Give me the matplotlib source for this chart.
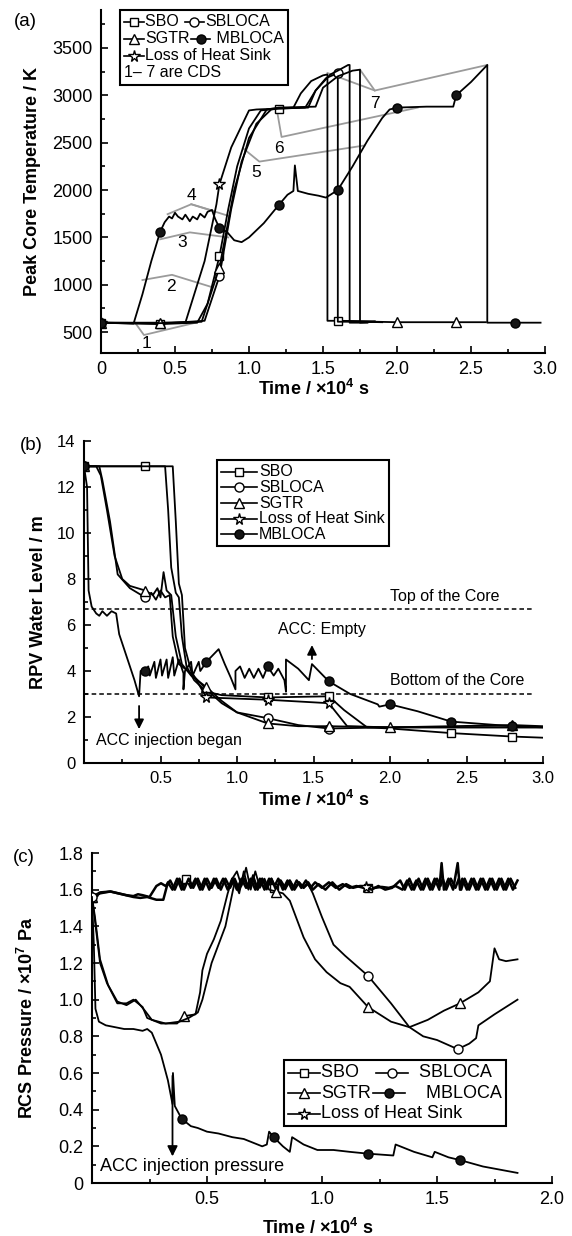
import numpy as np
import matplotlib.pyplot as plt
from matplotlib.lines import Line2D
from matplotlib.offsetbox import DrawingArea, TextArea, HPacker, VPacker, AnchoredOffsetbox
from matplotlib.ticker import MultipleLocator, FuncFormatter

plt.rcParams['font.family'] = ['Liberation Sans', 'DejaVu Sans']
plt.rcParams['mathtext.fontset'] = 'custom'
plt.rcParams['mathtext.rm'] = 'Liberation Sans'
plt.rcParams['mathtext.bf'] = 'Liberation Sans:bold'

# ---------------- (a) peak core temperature ----------------
a_sbo_t = [0, 0.4, 0.65, 0.72, 0.8, 0.86, 0.92, 1.0, 1.08, 1.2, 1.3, 1.35, 1.42, 1.5, 1.53, 1.53, 1.6, 1.85]
a_sbo_T = [600, 585, 600, 800, 1300, 1800, 2250, 2650, 2840, 2860, 2870, 3020, 3150, 3210, 3220, 620, 620, 615]

a_sblo_t = [0, 0.4, 0.7, 0.8, 0.88, 0.95, 1.05, 1.15, 1.2, 1.4, 1.45, 1.52, 1.6, 1.6, 1.75, 1.9]
a_sblo_T = [600, 590, 620, 1090, 1800, 2300, 2700, 2850, 2860, 2870, 3050, 3180, 3235, 610, 610, 605]

a_sgtr_t = [0, 0.4, 0.68, 0.8, 0.9, 1.0, 1.12, 1.2, 1.45, 1.5, 1.6, 1.7, 1.75, 1.75, 1.85, 2.0, 2.4, 2.6]
a_sgtr_T = [600, 600, 610, 1180, 2000, 2550, 2850, 2870, 2880, 3080, 3200, 3260, 3270, 600, 610, 605, 605, 605]

a_lohs_t = [0, 0.4, 0.57, 0.7, 0.78, 0.8, 0.88, 1.0, 1.05, 1.2, 1.38, 1.45, 1.55, 1.6, 1.67, 1.68, 1.68, 1.8]
a_lohs_T = [600, 595, 600, 1250, 1850, 2060, 2450, 2840, 2850, 2860, 2870, 3050, 3220, 3260, 3320, 3320, 600, 600]

a_mb_t = [0, 0.22, 0.28, 0.34, 0.4, 0.43, 0.46, 0.48, 0.5, 0.52, 0.55, 0.57, 0.6, 0.62, 0.65, 0.67,
          0.7, 0.72, 0.75, 0.77, 0.8, 0.85, 0.9, 0.95, 1.0, 1.1, 1.2, 1.26, 1.3, 1.31, 1.33, 1.4,
          1.47, 1.52, 1.6, 1.7, 1.8, 1.9, 1.95, 2.0, 2.2, 2.38, 2.4, 2.5, 2.61, 2.61, 2.8, 2.97]
a_mb_T = [600, 590, 900, 1250, 1560, 1660, 1720, 1700, 1760, 1720, 1690, 1740, 1670, 1720, 1690, 1750,
          1710, 1770, 1790, 1700, 1600, 1560, 1470, 1450, 1500, 1650, 1840, 1950, 1990, 2260, 1990, 1960,
          1940, 1920, 2000, 2250, 2520, 2760, 2850, 2870, 2880, 2880, 3000, 3140, 3320, 600, 600, 600]

# CDS guide lines (gray) and their numbers
cds_lines = [
    ([0.23, 0.29, 0.68], [600, 470, 615]),
    ([0.28, 0.48, 0.74], [1050, 1105, 980]),
    ([0.40, 0.60, 0.86], [1480, 1553, 1500]),
    ([0.45, 0.61, 0.87], [1745, 1850, 1723]),
    ([0.61, 0.76], [1850, 1780]),
    ([0.96, 1.07, 1.78], [2440, 2300, 2470]),
    ([1.19, 1.22, 2.14], [2830, 2560, 2870]),
    ([1.53, 1.85, 2.61], [3235, 3050, 3320]),
    ([1.75, 1.85], [3270, 3050]),
]
cds_num = ['1', '2', '3', '4', '5', '6', '7']
cds_num_t = [0.31, 0.47, 0.55, 0.61, 1.05, 1.20, 1.85]
cds_num_T = [385, 980, 1447, 1940, 2190, 2436, 2915]

# ---------------- (b) RPV water level ----------------
b_sbo_t = [0, 0.4, 0.53, 0.55, 0.57, 0.6, 0.62, 0.64, 0.67, 0.72, 0.8, 0.9, 1.2, 1.6, 1.7, 1.85, 2.0, 2.4, 2.8, 3.0]
b_sbo_L = [12.9, 12.9, 12.9, 11.0, 8.5, 7.4, 7.2, 5.5, 4.2, 3.6, 3.1, 2.95, 2.85, 2.9, 2.3, 1.55, 1.5, 1.3, 1.15, 1.1]

b_sblo_t = [0, 0.1, 0.12, 0.17, 0.22, 0.3, 0.4, 0.44, 0.47, 0.5, 0.53, 0.56, 0.58, 0.62, 0.7, 0.8, 0.9,
            1.0, 1.2, 1.4, 1.6, 2.0, 2.4, 2.8, 3.0]
b_sblo_L = [12.9, 12.9, 12.3, 10.5, 8.2, 7.6, 7.2, 7.4, 7.1, 7.5, 7.2, 7.3, 5.5, 4.3, 3.9, 3.2, 2.6,
            2.2, 1.95, 1.65, 1.5, 1.55, 1.55, 1.55, 1.55]

b_sgtr_t = [0, 0.08, 0.11, 0.15, 0.2, 0.25, 0.3, 0.4, 0.45, 0.48, 0.5, 0.52, 0.54, 0.57, 0.6, 0.64, 0.7,
            0.8, 0.9, 1.0, 1.2, 1.4, 1.6, 2.0, 2.4, 2.8, 3.0]
b_sgtr_L = [12.9, 12.9, 12.5, 11.0, 9.0, 8.0, 7.7, 7.5, 7.3, 7.6, 7.2, 8.3, 7.5, 7.3, 5.5, 4.3, 3.8,
            3.3, 2.7, 2.2, 1.72, 1.6, 1.6, 1.55, 1.6, 1.65, 1.6]

b_lohs_t = [0, 0.4, 0.58, 0.6, 0.62, 0.64, 0.66, 0.7, 0.8, 1.2, 1.6, 1.72, 2.0, 2.4, 2.8, 3.0]
b_lohs_L = [12.9, 12.9, 12.9, 10.5, 7.8, 7.3, 5.0, 4.0, 2.85, 2.75, 2.6, 1.6, 1.55, 1.55, 1.55, 1.55]

b_mb_t = [0, 0.02, 0.03, 0.05, 0.08, 0.1, 0.12, 0.15, 0.18, 0.21, 0.23, 0.26, 0.3, 0.33, 0.36, 0.37,
          0.4, 0.42, 0.43, 0.46, 0.47, 0.5, 0.51, 0.54, 0.55, 0.58, 0.59, 0.62, 0.65, 0.65, 0.66, 0.7,
          0.71, 0.75, 0.76, 0.8, 0.88, 0.92, 0.96, 0.99, 0.99, 1.02, 1.05, 1.08, 1.11, 1.14, 1.17, 1.2,
          1.24, 1.27, 1.31, 1.32, 1.32, 1.4, 1.47, 1.49, 1.6, 1.74, 1.92, 1.93, 2.0, 2.18, 2.4, 2.6, 2.8, 3.0]
b_mb_L = [12.9, 12.0, 7.5, 6.8, 6.5, 6.4, 6.6, 6.4, 6.6, 6.5, 5.6, 5.0, 4.2, 3.6, 2.9, 4.0,
          4.0, 4.2, 3.8, 4.4, 3.7, 4.5, 3.8, 4.5, 3.7, 4.6, 3.8, 4.5, 3.9, 3.2, 4.0, 4.4,
          3.8, 4.4, 4.0, 4.4, 4.95, 4.3, 3.7, 3.2, 4.0, 4.2, 3.7, 4.1, 3.7, 4.1, 3.7, 4.2,
          3.8, 4.1, 3.6, 3.1, 4.5, 4.1, 3.6, 4.3, 3.55, 3.0, 2.55, 2.45, 2.55, 2.25, 1.8, 1.7, 1.6, 1.55]

top_core = 6.7
bottom_core = 3.0

# ---------------- (c) RCS pressure ----------------
band_t = [0.35, 0.37, 0.39, 0.41, 0.43, 0.45, 0.47, 0.49, 0.51, 0.53, 0.55, 0.57, 0.59, 0.61, 0.63, 0.65,
          0.67, 0.69, 0.71, 0.73, 0.75, 0.77, 0.79, 0.81, 0.83, 0.85, 0.87, 0.89, 0.91, 0.93, 0.95, 0.97,
          1.0, 1.03, 1.06, 1.09, 1.12, 1.15, 1.18, 1.2, 1.23, 1.26, 1.29, 1.32,
          1.35, 1.37, 1.39, 1.41, 1.43, 1.45, 1.47, 1.49, 1.51, 1.52, 1.53, 1.55, 1.57, 1.59, 1.6, 1.61,
          1.63, 1.65, 1.67, 1.69, 1.71, 1.73, 1.75, 1.77, 1.79, 1.81, 1.83, 1.85]
sbo_band = [1.60, 1.66, 1.60, 1.66, 1.61, 1.66, 1.60, 1.66, 1.60, 1.66, 1.61, 1.66, 1.60, 1.66, 1.60, 1.66,
            1.61, 1.66, 1.60, 1.66, 1.60, 1.66, 1.61, 1.66, 1.60, 1.65, 1.60, 1.65, 1.61, 1.65, 1.61, 1.64,
            1.61, 1.64, 1.61, 1.63, 1.61, 1.62, 1.61, 1.61, 1.61, 1.615, 1.61, 1.62,
            1.60, 1.65, 1.60, 1.65, 1.60, 1.66, 1.60, 1.66, 1.60, 1.745, 1.60, 1.66, 1.60, 1.745, 1.60, 1.66,
            1.60, 1.66, 1.60, 1.66, 1.60, 1.66, 1.60, 1.66, 1.60, 1.66, 1.60, 1.65]
lohs_band_t = [0.34, 0.36, 0.38, 0.40, 0.42, 0.44, 0.46, 0.48, 0.50, 0.52, 0.54, 0.56, 0.58, 0.60, 0.62, 0.64,
               0.66, 0.68, 0.70, 0.72, 0.74, 0.76, 0.78, 0.80, 0.82, 0.84, 0.86, 0.88, 0.90, 0.92, 0.94, 0.96,
               0.985, 1.015, 1.045, 1.075, 1.105, 1.135, 1.165, 1.19, 1.215, 1.245, 1.275, 1.305,
               1.34, 1.36, 1.38, 1.40, 1.42, 1.44, 1.46, 1.48, 1.50, 1.515, 1.525, 1.54, 1.56, 1.58, 1.595, 1.605,
               1.62, 1.64, 1.66, 1.68, 1.70, 1.72, 1.74, 1.76, 1.78, 1.80, 1.82, 1.84]
lohs_band = [1.65, 1.60, 1.66, 1.60, 1.66, 1.61, 1.66, 1.60, 1.66, 1.61, 1.66, 1.60, 1.66, 1.61, 1.66, 1.60,
             1.66, 1.61, 1.66, 1.60, 1.66, 1.61, 1.66, 1.60, 1.65, 1.61, 1.65, 1.60, 1.64, 1.61, 1.64, 1.60,
             1.63, 1.60, 1.64, 1.60, 1.63, 1.61, 1.62, 1.615, 1.60, 1.62, 1.60, 1.61,
             1.65, 1.60, 1.66, 1.60, 1.66, 1.60, 1.66, 1.60, 1.66, 1.62, 1.66, 1.60, 1.66, 1.61, 1.66, 1.60,
             1.66, 1.60, 1.66, 1.60, 1.66, 1.60, 1.66, 1.60, 1.66, 1.60, 1.66, 1.61]

c_sbo_t = [0, 0.035, 0.08, 0.18, 0.21, 0.24, 0.28, 0.31, 0.33] + band_t
c_sbo_P = [1.555, 1.58, 1.59, 1.56, 1.555, 1.56, 1.545, 1.545, 1.64] + sbo_band

c_lohs_t = [0, 0.035, 0.08, 0.15, 0.18, 0.2, 0.22, 0.25, 0.28, 0.3, 0.32] + lohs_band_t
c_lohs_P = [1.56, 1.585, 1.59, 1.57, 1.565, 1.575, 1.57, 1.56, 1.62, 1.635, 1.62] + lohs_band

c_sgtr_t = [0, 0.013, 0.035, 0.065, 0.11, 0.15, 0.18, 0.22, 0.24, 0.3, 0.37, 0.4, 0.45, 0.47, 0.48, 0.5,
            0.53, 0.56, 0.59, 0.61, 0.63, 0.65, 0.67, 0.69, 0.71, 0.73, 0.75, 0.77, 0.8, 0.83, 0.86, 0.92,
            0.97, 1.02, 1.08, 1.12, 1.2, 1.3, 1.38, 1.46, 1.53, 1.6, 1.68, 1.73, 1.75, 1.77, 1.8, 1.85]
c_sgtr_P = [1.56, 1.43, 1.2, 1.09, 0.98, 0.98, 1.0, 0.96, 0.9, 0.87, 0.87, 0.91, 0.92, 1.04, 1.16, 1.25,
            1.33, 1.43, 1.58, 1.66, 1.70, 1.62, 1.72, 1.60, 1.70, 1.61, 1.66, 1.60, 1.59, 1.58, 1.54, 1.34,
            1.22, 1.15, 1.09, 1.07, 0.96, 0.88, 0.85, 0.89, 0.94, 0.98, 1.04, 1.1, 1.28, 1.22, 1.21, 1.22]

c_sblo_t = [0, 0.013, 0.035, 0.07, 0.11, 0.15, 0.19, 0.23, 0.26, 0.32, 0.38, 0.42, 0.46, 0.48, 0.5, 0.52,
            0.55, 0.58, 0.6, 0.62, 0.64, 0.66, 0.68, 0.7, 0.72, 0.74, 0.76, 0.78, 0.8, 0.82, 0.84, 0.86,
            0.88, 0.9, 0.92, 0.94, 0.96, 1.0, 1.05, 1.1, 1.2, 1.3, 1.38, 1.44, 1.5, 1.59, 1.64, 1.67,
            1.68, 1.75, 1.85]
c_sblo_P = [1.56, 1.45, 1.22, 1.08, 0.99, 0.97, 1.0, 0.94, 0.89, 0.87, 0.88, 0.9, 0.93, 1.0, 1.1, 1.2,
            1.3, 1.4, 1.52, 1.64, 1.58, 1.70, 1.60, 1.68, 1.61, 1.66, 1.60, 1.66, 1.61, 1.65, 1.60, 1.65,
            1.61, 1.64, 1.61, 1.63, 1.58, 1.45, 1.3, 1.24, 1.13, 0.98, 0.85, 0.8, 0.78, 0.73, 0.76, 0.79,
            0.86, 0.92, 1.0]

c_mb_t = [0, 0.008, 0.015, 0.03, 0.06, 0.1, 0.14, 0.18, 0.22, 0.24, 0.26, 0.3, 0.33, 0.35, 0.352, 0.36,
          0.39, 0.43, 0.46, 0.5, 0.55, 0.61, 0.66, 0.7, 0.74, 0.76, 0.77, 0.79, 0.83, 0.86, 0.87, 0.92,
          0.98, 1.05, 1.12, 1.2, 1.31, 1.32, 1.4, 1.48, 1.49, 1.55, 1.6, 1.7, 1.85]
c_mb_P = [1.56, 1.3, 0.95, 0.88, 0.86, 0.85, 0.84, 0.84, 0.83, 0.84, 0.82, 0.7, 0.56, 0.43, 0.6, 0.42,
          0.35, 0.31, 0.3, 0.28, 0.27, 0.25, 0.24, 0.22, 0.2, 0.21, 0.28, 0.25, 0.2, 0.17, 0.25, 0.21,
          0.18, 0.18, 0.17, 0.16, 0.15, 0.21, 0.17, 0.14, 0.17, 0.14, 0.125, 0.09, 0.055]

STYLE = {'SBO': ('s', 'white', 6), 'SBLOCA': ('o', 'white', 6.5), 'SGTR': ('^', 'white', 6.5),
         'Loss of Heat Sink': ('*', 'white', 8.5), 'MBLOCA': ('o', '#151515', 6.5)}


def draw(ax, t, y, name, marks, lw=1.3):
    m, fc, ms = STYLE[name]
    tt = np.array(t)
    idx = [int(np.argmin(np.abs(tt - v))) for v in marks]
    ax.plot(t, y, color='k', lw=lw, marker=m, mfc=fc, mec='k', mew=1.0, ms=ms,
            markevery=idx, zorder=3)


def handle(name, w):
    m, fc, ms = STYLE[name]
    da = DrawingArea(w, 9, 0, 0)
    da.add_artist(Line2D([0, w], [4.5, 4.5], color='k', lw=1.2))
    da.add_artist(Line2D([w / 2], [4.5], marker=m, ms=ms, mfc=fc, mec='k', mew=1.0))
    return da


def legend_box(ax, rows, xy, fs, hw, sep=0):
    packed = []
    for row in rows:
        items = []
        for name, lab in row:
            if name:
                items.append(handle(name, hw))
            items.append(TextArea(lab, textprops=dict(fontsize=fs, color='k')))
        packed.append(HPacker(children=items, align='center', pad=0, sep=1))
    box = VPacker(children=packed, align='left', pad=0, sep=sep)
    anc = AnchoredOffsetbox(loc='upper left', child=box, pad=0.3, borderpad=0, frameon=True,
                            bbox_to_anchor=xy, bbox_transform=ax.transAxes)
    anc.patch.set_boxstyle('square', pad=0)
    anc.patch.set_edgecolor('k')
    anc.patch.set_linewidth(1.5)
    ax.add_artist(anc)


def style_axes(ax, tick_fs):
    for s in ['top', 'right']:
        ax.spines[s].set_visible(False)
    for s in ['left', 'bottom']:
        ax.spines[s].set_linewidth(1.5)
    ax.tick_params(which='both', direction='in', width=1.2, labelsize=tick_fs, pad=6)
    ax.tick_params(which='major', length=5)
    ax.tick_params(which='minor', length=3)


def fmt1(zero):
    return FuncFormatter(lambda v, p: zero if abs(v) < 1e-9 else '%.1f' % v)


fig = plt.figure(figsize=(5.72, 12.36), dpi=100)
W, H = 572, 1236
xlab = 'Time / ×10$^{\\mathbf{4}}$ s'

# ---- panel (a)
ax = fig.add_axes([101 / W, 1 - 353 / H, 444 / W, 343 / H])
for t, T in cds_lines:
    ax.plot(t, T, color='#9b9b9b', lw=1.3, zorder=2)
for s, t, T in zip(cds_num, cds_num_t, cds_num_T):
    ax.text(t, T, s, fontsize=12.5, ha='center', va='center', zorder=4)
draw(ax, a_sbo_t, a_sbo_T, 'SBO', [0, 0.4, 0.8, 1.2, 1.6])
draw(ax, a_sblo_t, a_sblo_T, 'SBLOCA', [0, 0.8, 1.6])
draw(ax, a_sgtr_t, a_sgtr_T, 'SGTR', [0, 0.4, 0.8, 2.0, 2.4])
draw(ax, a_lohs_t, a_lohs_T, 'Loss of Heat Sink', [0, 0.8])
draw(ax, a_mb_t, a_mb_T, 'MBLOCA', [0, 0.4, 0.8, 1.2, 1.6, 2.0, 2.4, 2.8])
ax.set_xlim(0, 3.0)
ax.set_ylim(280, 3900)
ax.xaxis.set_major_locator(MultipleLocator(0.5))
ax.xaxis.set_minor_locator(MultipleLocator(0.25))
ax.yaxis.set_major_locator(MultipleLocator(500))
ax.yaxis.set_minor_locator(MultipleLocator(250))
ax.xaxis.set_major_formatter(fmt1('0'))
style_axes(ax, 13)
ax.set_yticks([500, 1000, 1500, 2000, 2500, 3000, 3500])
ax.set_ylabel('Peak Core Temperature / K', fontsize=13, fontweight='bold')
ax.set_xlabel(xlab, fontsize=13, fontweight='bold')
ax.yaxis.set_label_coords(-0.135, 0.5)
ax.xaxis.set_label_coords(0.48, -0.075)
legend_box(ax, [[('SBO', 'SBO '), ('SBLOCA', 'SBLOCA')],
                [('SGTR', 'SGTR'), ('MBLOCA', ' MBLOCA')],
                [('Loss of Heat Sink', 'Loss of Heat Sink')],
                [(None, '1– 7 are CDS')]], (0.043, 1.0), 11.5, 14, sep=1.5)
fig.text(25 / W, 1 - 22 / H, '(a)', fontsize=13.5, ha='center', va='center')

# ---- panel (b)
ax = fig.add_axes([84 / W, 1 - 763 / H, 459 / W, 322 / H])
ax.plot([0, 2.93], [top_core, top_core], color='k', lw=1.1, ls=(0, (3, 2)))
ax.plot([0, 2.93], [bottom_core, bottom_core], color='k', lw=1.1, ls=(0, (3, 2)))
draw(ax, b_sbo_t, b_sbo_L, 'SBO', [0, 0.4, 1.2, 1.6, 2.4, 2.8])
draw(ax, b_sblo_t, b_sblo_L, 'SBLOCA', [0, 0.4, 1.2, 1.6])
draw(ax, b_sgtr_t, b_sgtr_L, 'SGTR', [0, 0.4, 0.8, 1.2, 1.6, 2.0, 2.8])
draw(ax, b_lohs_t, b_lohs_L, 'Loss of Heat Sink', [0.8, 1.2, 1.6])
draw(ax, b_mb_t, b_mb_L, 'MBLOCA', [0, 0.4, 0.8, 1.2, 1.6, 2.0, 2.4, 2.8])
ax.text(2.0, 7.25, 'Top of the Core', fontsize=11.5, va='center')
ax.text(2.0, 3.6, 'Bottom of the Core', fontsize=11.5, va='center')
ax.text(1.27, 5.8, 'ACC: Empty', fontsize=11.5, va='center')
ax.text(0.08, 1.0, 'ACC injection began', fontsize=11.5, va='center')
ax.annotate('', xy=(1.49, 5.25), xytext=(1.49, 4.4),
            arrowprops=dict(arrowstyle='-|>', color='k', lw=1.3, mutation_scale=14))
ax.annotate('', xy=(0.36, 1.35), xytext=(0.36, 2.6),
            arrowprops=dict(arrowstyle='-|>', color='k', lw=1.3, mutation_scale=14))
ax.set_xlim(0, 3.0)
ax.set_ylim(0, 14)
ax.xaxis.set_major_locator(MultipleLocator(0.5))
ax.xaxis.set_minor_locator(MultipleLocator(0.25))
ax.yaxis.set_major_locator(MultipleLocator(2))
ax.yaxis.set_minor_locator(MultipleLocator(1))
ax.xaxis.set_major_formatter(fmt1(''))
style_axes(ax, 12)
ax.set_ylabel('RPV Water Level / m', fontsize=13, fontweight='bold')
ax.set_xlabel(xlab, fontsize=13, fontweight='bold')
ax.yaxis.set_label_coords(-0.08, 0.5)
ax.xaxis.set_label_coords(0.5, -0.085)
legend_box(ax, [[('SBO', 'SBO')], [('SBLOCA', 'SBLOCA')], [('SGTR', 'SGTR')],
                [('Loss of Heat Sink', 'Loss of Heat Sink')], [('MBLOCA', 'MBLOCA')]],
           (0.29, 0.941), 11.5, 26, sep=0.5)
fig.text(31 / W, 1 - 445 / H, '(b)', fontsize=13.5, ha='center', va='center')

# ---- panel (c)
ax = fig.add_axes([92 / W, 1 - 1183 / H, 460 / W, 330 / H])
draw(ax, c_sbo_t, c_sbo_P, 'SBO', [0, 0.4, 0.8, 1.2], lw=1.8)
draw(ax, c_lohs_t, c_lohs_P, 'Loss of Heat Sink', [0, 1.2], lw=1.8)
draw(ax, c_sgtr_t, c_sgtr_P, 'SGTR', [0, 0.4, 0.8, 1.2, 1.6])
draw(ax, c_sblo_t, c_sblo_P, 'SBLOCA', [0, 1.2, 1.6])
draw(ax, c_mb_t, c_mb_P, 'MBLOCA', [0.4, 0.8, 1.2, 1.6])
ax.text(0.035, 0.09, 'ACC injection pressure', fontsize=13, va='center')
ax.annotate('', xy=(0.35, 0.13), xytext=(0.35, 0.6),
            arrowprops=dict(arrowstyle='-|>', color='k', lw=1.3, mutation_scale=15))
ax.set_xlim(0, 2.0)
ax.set_ylim(0, 1.8)
ax.xaxis.set_major_locator(MultipleLocator(0.5))
ax.xaxis.set_minor_locator(MultipleLocator(0.25))
ax.yaxis.set_major_locator(MultipleLocator(0.2))
ax.yaxis.set_minor_locator(MultipleLocator(0.1))
ax.xaxis.set_major_formatter(fmt1(''))
ax.yaxis.set_major_formatter(fmt1('0'))
style_axes(ax, 13)
ax.set_ylabel('RCS Pressure / ×10$^{\\mathbf{7}}$ Pa', fontsize=13, fontweight='bold')
ax.set_xlabel(xlab, fontsize=13, fontweight='bold')
ax.yaxis.set_label_coords(-0.12, 0.5)
ax.xaxis.set_label_coords(0.49, -0.105)
legend_box(ax, [[('SBO', 'SBO   '), ('SBLOCA', '  SBLOCA')],
                [('SGTR', 'SGTR'), ('MBLOCA', '    MBLOCA')],
                [('Loss of Heat Sink', 'Loss of Heat Sink')]],
           (0.417, 0.373), 13, 23, sep=2.5)
fig.text(24 / W, 1 - 857 / H, '(c)', fontsize=13.5, ha='center', va='center')

fig.savefig('out.png', dpi=100)
